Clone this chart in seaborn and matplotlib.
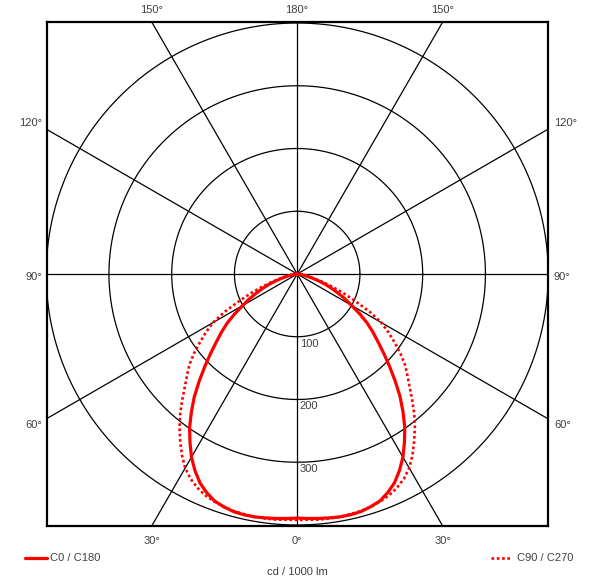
import numpy as np
import pandas as pd
import matplotlib
matplotlib.use("Agg")
import matplotlib.pyplot as plt
from matplotlib.lines import Line2D
import seaborn as sns

# ---- data (cd / 1000 lm), gamma measured from nadir, symmetric curves ----
gamma = [0, 2.5, 5, 7.5, 10, 12.5, 15, 17.5, 20, 22.5, 25, 27.5, 30, 32.5, 35, 37.5, 40, 42.5,
         45, 47.5, 50, 52.5, 55, 57.5, 60, 62.5, 65, 67.5, 70, 72.5, 75, 77.5, 80, 82.5, 85, 87.5, 90]
c0_c180 = [389, 390, 391, 392, 393, 393, 392, 389, 385, 377, 367, 353, 337, 318, 299, 277, 255, 231,
           208, 187, 168, 152, 136, 118, 100, 86, 72, 59, 47, 35, 24, 16, 10, 6, 3, 1, 0]
c90_c270 = [392, 392, 393, 393, 393, 392, 391, 389, 386, 382, 376, 368, 357, 342, 325, 308, 290, 271,
            253, 238, 224, 207, 189, 172, 155, 130, 102, 80, 60, 43, 28, 19, 12, 8, 5, 3, 1]
series_names = ["C0 / C180", "C90 / C270"]
ring_values = [100, 200, 300, 400]
ring_labels = ["100", "200", "300"]
spoke_angles = list(range(0, 360, 30))
top_labels = ["150°", "180°", "150°"]
side_labels = ["120°", "90°", "60°"]
bottom_labels = ["30°", "0°", "30°"]
unit_label = "cd / 1000 lm"

sns.set_style("white")
plt.rcParams["font.family"] = ["Liberation Sans", "DejaVu Sans"]
TXT = "#404040"

W, H = 600, 580
fig = plt.figure(figsize=(W / 100, H / 100), dpi=100)
L, R, T, B = 46.7, 547.7, 22, 526
ax = fig.add_axes([L / W, 1 - B / H, (R - L) / W, (B - T) / H])
cx, cy = 297.2, 274.0
k = 400 / 251.0  # cd per pixel
ax.set_xlim((L - cx) * k, (R - cx) * k)
ax.set_ylim((cy - B) * k, (cy - T) * k)
ax.set_xticks([]); ax.set_yticks([])
for s in ax.spines.values():
    s.set_visible(True)
    s.set_color("black")
    s.set_linewidth(1.6)

# grid rings
t = np.linspace(0, 2 * np.pi, 721)
for rv in ring_values:
    ax.plot(rv * np.cos(t), rv * np.sin(t), color="black", lw=0.9, zorder=1)
# spokes
for a in spoke_angles:
    ar = np.deg2rad(a)
    ax.plot([0, 2000 * np.sin(ar)], [0, -2000 * np.cos(ar)], color="black", lw=0.9, zorder=1)

# curves
def to_xy(vals):
    g = np.array(gamma, dtype=float)
    v = np.array(vals, dtype=float)
    gg = np.concatenate([-g[::-1], g[1:]])
    vv = np.concatenate([v[::-1], v[1:]])
    ang = np.deg2rad(gg)
    return vv * np.sin(ang), -vv * np.cos(ang)

rows = []
for name, vals in zip(series_names, [c0_c180, c90_c270]):
    x, y = to_xy(vals)
    for i, (xi, yi) in enumerate(zip(x, y)):
        rows.append({"series": name, "order": i, "x": xi, "y": yi})
df = pd.DataFrame(rows)

sns.lineplot(data=df[df.series == series_names[1]], x="x", y="y", sort=False, estimator=None,
             color="#ff0000", lw=1.9, linestyle=(0, (1, 1.0)), ax=ax, zorder=3, legend=False)
sns.lineplot(data=df[df.series == series_names[0]], x="x", y="y", sort=False, estimator=None,
             color="#ff0000", lw=2.3, ax=ax, zorder=4, legend=False)
ax.set_xlabel(""); ax.set_ylabel("")

# ring labels
for rv, lab in zip(ring_values, ring_labels):
    ax.text(4, -rv - 3, lab, ha="left", va="top", fontsize=8, color=TXT, zorder=5)

def ftext(x, y, s, ha="center"):
    fig.text(x / W, 1 - y / H, s, ha=ha, va="center", fontsize=8, color=TXT)

# angle labels
for x, s in zip([152, 297, 443], top_labels):
    ftext(x, 10, s)
for x, s in zip([152, 297, 443], bottom_labels):
    ftext(x, 541, s)
for y, s in zip([123, 277, 425], side_labels):
    ftext(42, y, s, ha="right")
    ftext(554, y, s, ha="left")

# legend
fig.add_artist(Line2D([25 / W, 47 / W], [1 - 558 / H, 1 - 558 / H], color="#ff0000", lw=2.3))
ftext(50, 558, series_names[0], ha="left")
fig.add_artist(Line2D([491 / W, 512 / W], [1 - 558 / H, 1 - 558 / H], color="#ff0000", lw=1.9,
                      linestyle=(0, (1, 1.0))))
ftext(517, 558, series_names[1], ha="left")
ftext(297, 572, unit_label)

fig.savefig("out.png", dpi=100)
